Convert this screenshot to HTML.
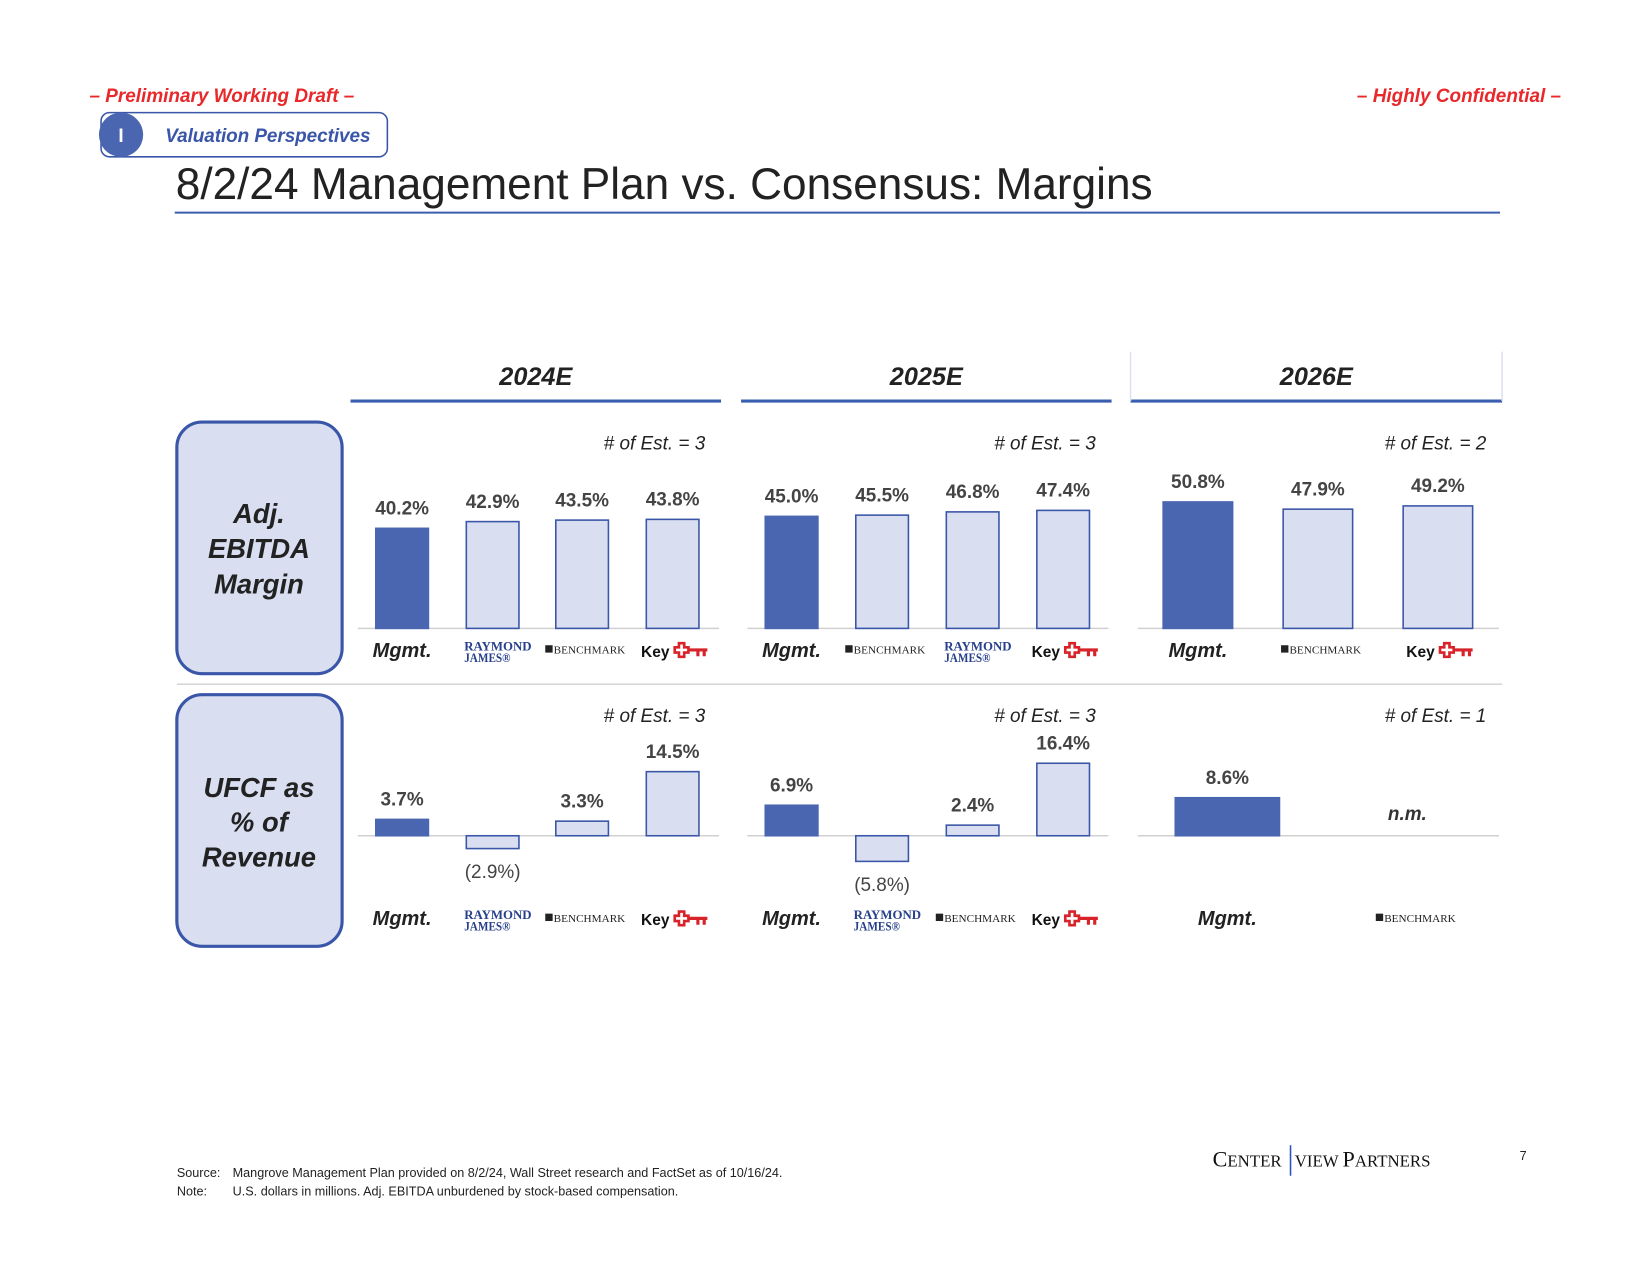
<!DOCTYPE html>
<html><head><meta charset="utf-8"><style>
html,body{margin:0;padding:0;background:#fff;}
svg{display:block;font-family:"Liberation Sans",sans-serif;}
</style></head><body>
<svg id="s" width="1650" height="1275" viewBox="0 0 1567.5 1211.3" preserveAspectRatio="none" xmlns="http://www.w3.org/2000/svg">
<text x="85" y="97" font-size="18" font-weight="bold" font-style="italic" fill="#e8282b">– Preliminary Working Draft –</text>
<text x="1483" y="97" font-size="18" font-weight="bold" font-style="italic" fill="#e8282b" text-anchor="end">– Highly Confidential –</text>
<g>
<rect x="96" y="107" width="272" height="42" rx="8" fill="#fff" stroke="#3a56a8" stroke-width="1.5"/>
<circle cx="115" cy="128" r="21" fill="#4a66b0"/>
<text x="115" y="135" font-size="18" font-weight="bold" fill="#fff" text-anchor="middle">I</text>
<text x="157" y="135" font-size="18" font-weight="bold" font-style="italic" fill="#3a56a8" textLength="195">Valuation Perspectives</text>
</g>
<text x="167" y="189" font-size="42" fill="#222" textLength="928" lengthAdjust="spacingAndGlyphs">8/2/24 Management Plan vs. Consensus: Margins</text>
<line x1="166" y1="202" x2="1425" y2="202" stroke="#3a5fb0" stroke-width="2"/>
<g id="hdr"></g>
<line x1="168" y1="650" x2="1427" y2="650" stroke="#d6d6d6" stroke-width="1.5"/>
<g>
<rect x="168" y="401" width="157" height="239" rx="24" fill="#d9dff0" stroke="#3a56a8" stroke-width="3"/>
<text x="246" y="497" font-size="26" font-weight="bold" font-style="italic" fill="#222" text-anchor="middle">Adj.</text>
<text x="246" y="530" font-size="26" font-weight="bold" font-style="italic" fill="#222" text-anchor="middle">EBITDA</text>
<text x="246" y="564" font-size="26" font-weight="bold" font-style="italic" fill="#222" text-anchor="middle">Margin</text>
</g>
<g>
<rect x="168" y="660" width="157" height="239" rx="24" fill="#d9dff0" stroke="#3a56a8" stroke-width="3"/>
<text x="246" y="757" font-size="26" font-weight="bold" font-style="italic" fill="#222" text-anchor="middle">UFCF as</text>
<text x="246" y="790" font-size="26" font-weight="bold" font-style="italic" fill="#222" text-anchor="middle">% of</text>
<text x="246" y="823" font-size="26" font-weight="bold" font-style="italic" fill="#222" text-anchor="middle">Revenue</text>
</g>
<g id="charts"></g>
<text x="1337" y="779" font-size="18" font-weight="bold" font-style="italic" fill="#333" text-anchor="middle">n.m.</text>
<g font-size="12" fill="#222">
<text x="168" y="1118">Source:</text><text x="221" y="1118">Mangrove Management Plan provided on 8/2/24, Wall Street research and FactSet as of 10/16/24.</text>
<text x="168" y="1136">Note:</text><text x="221" y="1136">U.S. dollars in millions. Adj. EBITDA unburdened by stock-based compensation.</text>
</g>
<g font-family="Liberation Serif,serif" fill="#111">
<text x="1152" y="1108" font-size="21">C<tspan font-size="16">ENTER</tspan></text>
<line x1="1226" y1="1088" x2="1226" y2="1117" stroke="#2a55c0" stroke-width="1.5"/>
<text x="1230" y="1108" font-size="16">VIEW <tspan font-size="21">P</tspan>ARTNERS</text>
</g>
<text x="1447" y="1102" font-size="12" fill="#222" text-anchor="middle">7</text>
</svg>
<script>
const years = ["2024E","2025E","2026E"];
const estTop = ["3","3","2"];
const estBot = ["3","3","1"];
const cat24Top = ["Mgmt.","RJ","BM","KEY"];
const cat25Top = ["Mgmt.","BM","RJ","KEY"];
const cat26Top = ["Mgmt.","BM","KEY"];
const cat24Bot = ["Mgmt.","RJ","BM","KEY"];
const cat25Bot = ["Mgmt.","RJ","BM","KEY"];
const cat26Bot = ["Mgmt.","BM"];
const ebitda24 = [40.2,42.9,43.5,43.8];
const ebitda25 = [45.0,45.5,46.8,47.4];
const ebitda26 = [50.8,47.9,49.2];
const ufcf24 = [3.7,-2.9,3.3,14.5];
const ufcf25 = [6.9,-5.8,2.4,16.4];
const ufcf26 = [8.6];

const NS="http://www.w3.org/2000/svg";
function mk(tag,attrs,parent,txt){const e=document.createElementNS(NS,tag);for(const k in attrs)e.setAttribute(k,attrs[k]);if(txt!==undefined)e.textContent=txt;parent.appendChild(e);return e;}
const hdr=document.getElementById('hdr'), charts=document.getElementById('charts');
const colX=[[333,685],[704,1056],[1074,1427]];
years.forEach((y,i)=>{
  const g=mk('g',{},hdr);
  
  
  mk('text',{x:(colX[i][0]+colX[i][1])/2,y:366,'font-size':24,'font-weight':'bold','font-style':'italic',fill:'#222','text-anchor':'middle'},g,y);
  mk('line',{x1:colX[i][0],y1:381,x2:colX[i][1],y2:381,stroke:'#3a5fb0','stroke-width':3},g);
});
mk('path',{d:'M1074 381 V334 M1427 334 V381',fill:'none',stroke:'#dde2ee','stroke-width':1.5},hdr);

function logo(g,type,cx,base){
  if(type==="Mgmt."){mk('text',{x:cx,y:base,'font-size':19,'font-weight':'bold','font-style':'italic',fill:'#222','text-anchor':'middle'},g,'Mgmt.');}
  else if(type==="RJ"){
    mk('text',{x:cx+5,y:base-6,'font-size':12,'font-weight':'bold','font-family':'Liberation Serif,serif',fill:'#27408b','text-anchor':'middle',textLength:64,lengthAdjust:'spacingAndGlyphs'},g,'RAYMOND');
    mk('text',{x:cx-27,y:base+5,'font-size':12,'font-weight':'bold','font-family':'Liberation Serif,serif',fill:'#27408b',textLength:44,lengthAdjust:'spacingAndGlyphs'},g,'JAMES®');
  } else if(type==="BM"){
    mk('rect',{x:cx-35,y:base-11,width:7,height:7,fill:'#222'},g);
    mk('text',{x:cx-27,y:base-3,'font-size':10,'font-family':'Liberation Serif,serif',fill:'#222',textLength:68,lengthAdjust:'spacingAndGlyphs'},g,'BENCHMARK');
  } else {
    mk('text',{x:cx-30,y:base,'font-size':15,'font-weight':'bold',fill:'#111',textLength:27,lengthAdjust:'spacingAndGlyphs'},g,'Key');
    mk('path',{d:`M${cx+6} ${base-13} h5 v4 h4 v5 h-4 v4 h-5 v-4 h-4 v-5 h4 z`,fill:'none',stroke:'#d8232a','stroke-width':2.5},g);
    mk('path',{d:`M${cx+15} ${base-6.5} h18 M${cx+24} ${base-6.5} v6 M${cx+30} ${base-6.5} v6`,fill:'none',stroke:'#d8232a','stroke-width':3},g);
  }
}
function panel(vals,cats,centers,bw,x0,x1,zeroY,scale,est,estX,estY,catY,name){
  const g=mk('g',{},charts);
  
  
  mk('line',{x1:x0,y1:zeroY,x2:x1,y2:zeroY,stroke:'#d0d0d0','stroke-width':1.5},g);
  const et=mk('text',{x:estX,y:estY,'font-size':18,'font-style':'italic',fill:'#222','text-anchor':'end'},g,'# of Est. = '+est);
  
  
  vals.forEach((v,i)=>{
    const cx=centers[i], h=Math.abs(v)*scale, top=v>=0?zeroY-h:zeroY;
    const first=i===0;
    const r=mk('rect',{x:cx-bw/2,y:top,width:bw,height:h,fill:first?'#4a66b0':'#d9dff0',stroke:first?'#4a66b0':'#3a56a8','stroke-width':1.5},g);
    
    
    const lbl=v>=0?v.toFixed(1)+'%':'('+Math.abs(v).toFixed(1)+'%)';
    const ty=v>=0?top-13:zeroY+h+28;
    const t=mk('text',{x:cx,y:ty,'font-size':18,'font-weight':v>=0?'bold':'normal',fill:'#444','text-anchor':'middle'},g,lbl);
    
    
  });
  cats.forEach((c,i)=>{
    const lg=mk('g',{},g);
    
    
    logo(lg,c,centers[i],catY);
  });
}
const c4=[382,468,553,639], c5=[752,838,924,1010];
panel(ebitda24,cat24Top,c4,50,340,683,597,2.365,estTop[0],670,427,624,'ebitda-2024-chart');
panel(ebitda25,cat25Top,c5,50,710,1053,597,2.365,estTop[1],1041,427,624,'ebitda-2025-chart');
panel(ebitda26,cat26Top,[1138,1252,1366],66,1081,1424,597,2.365,estTop[2],1412,427,624,'ebitda-2026-chart');
panel(ufcf24,cat24Bot,[382,468,553,639],50,340,683,794,4.2,estBot[0],670,686,879,'ufcf-2024-chart');
panel(ufcf25,cat25Bot,[752,838,924,1010],50,710,1053,794,4.2,estBot[1],1041,686,879,'ufcf-2025-chart');
panel(ufcf26,cat26Bot,[1166,1342],99,1081,1424,794,4.2,estBot[2],1412,686,879,'ufcf-2026-chart');
</script>
</body></html>
